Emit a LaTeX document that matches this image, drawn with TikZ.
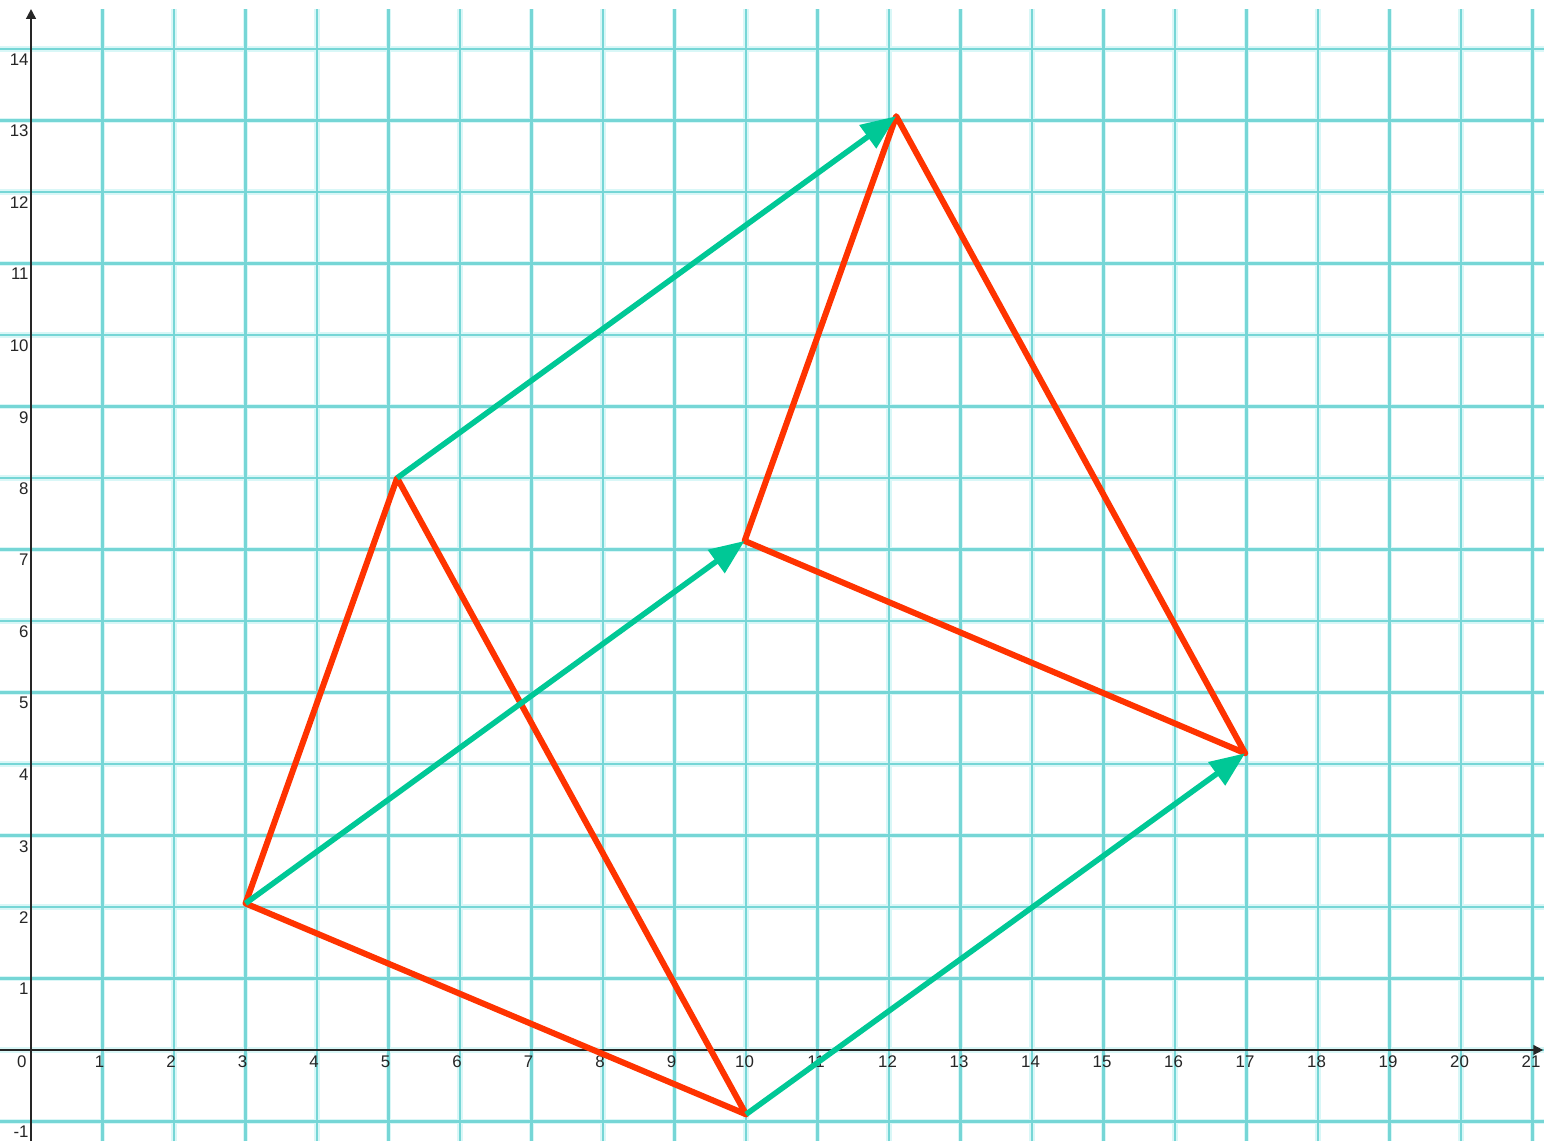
\documentclass[tikz,border=0pt]{standalone}
\usepackage{fontspec}
\setmainfont{Liberation Sans}
\usepackage{tikz}
\usetikzlibrary{arrows.meta}
\definecolor{gridhalo}{HTML}{D9F7F7}
\definecolor{gridline}{HTML}{76D6D6}
\definecolor{shape}{HTML}{FF3300}
\definecolor{shift}{HTML}{00C896}
\newcommand{\tickfont}{\fontsize{6.7}{8}\selectfont}

\begin{document}
\begin{tikzpicture}[
  %--- shared styles ------------------------------------------------
  halo/.style={draw=gridhalo, line width=2.2pt},
  gline/.style={draw=gridline, line width=0.95pt},
  axis/.style={draw=black!85, line width=1pt,
    -{Triangle[length=4pt,width=3.8pt]}},
  tick/.style={font=\tickfont, text=black!85, inner sep=0pt},
  edge/.style={draw=shape, line width=2.4pt, line join=round},
  vec/.style={draw=shift, line width=2.2pt,
    -{Triangle[length=14pt,width=11pt]}},
]

%% --- frame (fixes margins) -----------------------------------------
\fill[white] (-0.434,-1.273) rectangle (21.16,14.685);
\useasboundingbox (-0.434,-1.273) rectangle (21.16,14.685);

%% --- grid -----------------------------------------------------------
\foreach \x in {1,...,21} {
  \draw[halo] (\x,-1.273) -- (\x,14.56);
}
\foreach \y in {-1,...,14} {
  \draw[halo] (-0.434,\y) -- (21.16,\y);
}
\foreach \x in {1,...,21} {
  \draw[gline] (\x,-1.273) -- (\x,14.56);
}
\foreach \y in {-1,...,14} {
  \draw[gline] (-0.434,\y) -- (21.16,\y);
}

%% --- axes -----------------------------------------------------------
\coordinate (xl) at (-0.434,0);
\coordinate (xr) at (21.15,0);
\coordinate (yb) at (0,-1.273);
\coordinate (yt) at (0,14.56);
\draw[axis] (xl) -- (xr);
\draw[axis] (yb) -- (yt);

%% --- tick labels ----------------------------------------------------
\node[tick, anchor=north east, xshift=-1.6pt, yshift=-2pt] (o) at (0,0) {0};
\foreach \x in {1,...,9}
  \node[tick, anchor=north, xshift=-1.2pt, yshift=-2pt] (xt\x) at (\x,0) {\x};
\foreach \x in {10,...,21}
  \node[tick, anchor=north, xshift=-0.6pt, yshift=-2pt] (xt\x) at (\x,0) {\x};
\foreach \y in {-1,1,2,3,4,5,6,7,8,9,10,11,12,13,14}
  \node[tick, anchor=north east, xshift=-0.8pt, yshift=-1.7pt] (yt\y) at (0,\y) {\y};

%% --- points ---------------------------------------------------------
\coordinate (A)  at (3,2.05);
\coordinate (B)  at (5.12,8.0);
\coordinate (C)  at (10,-0.9);
\coordinate (A') at (9.98,7.12);
\coordinate (B') at (12.1,13.06);
\coordinate (C') at (16.98,4.15);

%% --- triangles ------------------------------------------------------
\draw[edge] (A) -- (B) -- (C) -- cycle;
\draw[edge] (A') -- (B') -- (C') -- cycle;

%% --- translation arrows ---------------------------------------------
\draw[vec] (A) -- (A');
\draw[vec] (B) -- (B');
\draw[vec] (C) -- (C');

\end{tikzpicture}
\end{document}
